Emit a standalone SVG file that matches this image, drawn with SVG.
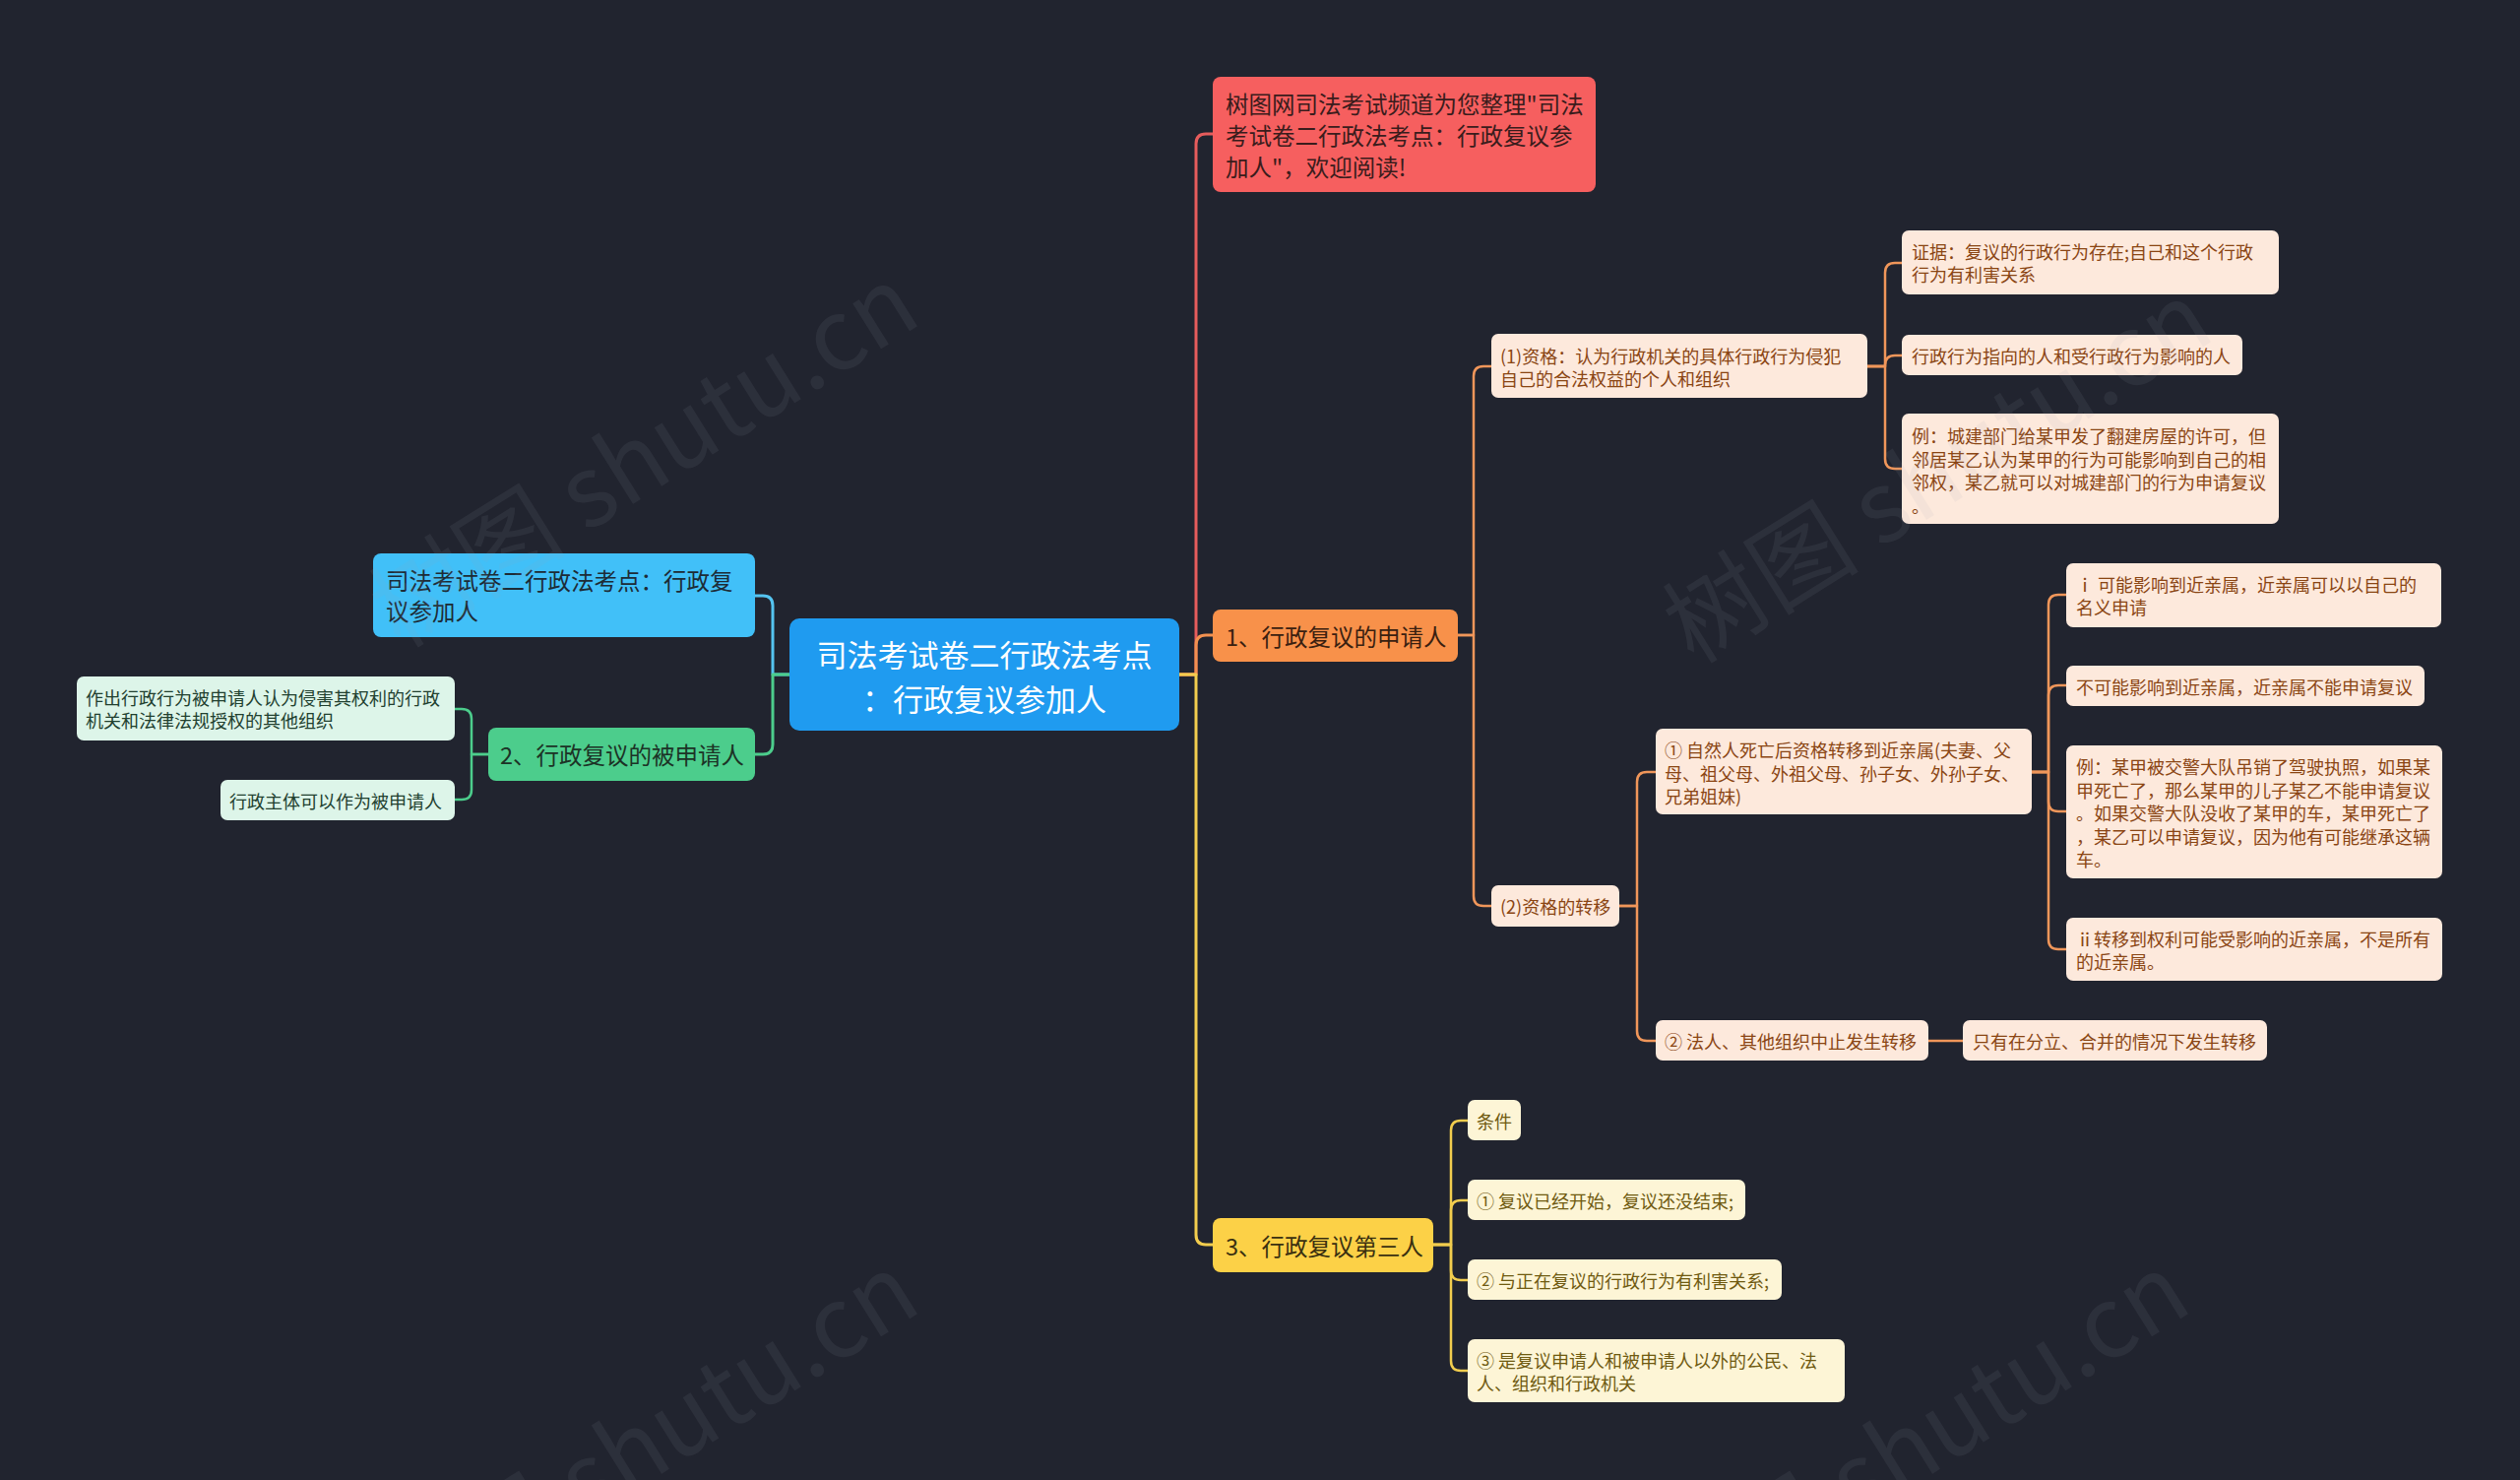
<svg xmlns="http://www.w3.org/2000/svg" width="2560" height="1503" viewBox="0 0 2560 1503">
<style>
.t{font-family:"Noto Sans CJK SC","Noto Sans",sans-serif;dominant-baseline:central}
.lk{fill:none;stroke-linecap:round;stroke-linejoin:round}
.main{stroke-width:3}
.sub{stroke-width:2.5}
.ol{fill:#fde9dc}
.ot{fill:#8a4513;font-size:18px}
.yl{fill:#fdf5d6}
.yt{fill:#6f5a10;font-size:18px}
.gl{fill:#ddf5e9}
.gt{fill:#21402f;font-size:18px}
.l1{font-size:23.5px}
.wm{font-family:"Noto Sans CJK SC","Noto Sans",sans-serif;font-size:100px;fill:#a0a6b4;opacity:0.09;text-anchor:end}
</style>
<rect x="0" y="0" width="2560" height="1503" fill="#21242f"/>

<g id="connectors">
  <path class="lk main" stroke="#e65c5c" d="M1197,685 H1215 V146 Q1215,136 1225,136 H1233"/>
  <path class="lk main" stroke="#f39150" d="M1197,685 H1215 V655 Q1215,645 1225,645 H1233"/>
  <path class="lk main" stroke="#f2cd4e" d="M1197,685 H1215 V1254 Q1215,1264 1225,1264 H1233"/>
  <path class="lk main" stroke="#55c4f0" d="M802,685 H785 V615 Q785,605 775,605 H767"/>
  <path class="lk main" stroke="#4ccd8c" d="M802,685 H785 V756 Q785,766 775,766 H767"/>
  <path class="lk sub" stroke="#4ccd8c" d="M496,766 H479 V730 Q479,720 469,720 H462"/>
  <path class="lk sub" stroke="#4ccd8c" d="M496,766 H479 V802 Q479,812 469,812 H462"/>
  <path class="lk sub" stroke="#f0965a" d="M1481,645 H1497 V382 Q1497,372 1507,372 H1515"/>
  <path class="lk sub" stroke="#f0965a" d="M1481,645 H1497 V910 Q1497,920 1507,920 H1515"/>
  <path class="lk sub" stroke="#f0965a" d="M1897,372 H1915 V277 Q1915,267 1925,267 H1932"/>
  <path class="lk sub" stroke="#f0965a" d="M1897,372 H1915 V371 Q1915,361 1925,361 H1932"/>
  <path class="lk sub" stroke="#f0965a" d="M1897,372 H1915 V466 Q1915,476 1925,476 H1932"/>
  <path class="lk sub" stroke="#f0965a" d="M1645,920 H1663 V794 Q1663,784 1673,784 H1682"/>
  <path class="lk sub" stroke="#f0965a" d="M1645,920 H1663 V1047 Q1663,1057 1673,1057 H1682"/>
  <path class="lk sub" stroke="#f0965a" d="M2064,784 H2081 V614 Q2081,604 2091,604 H2099"/>
  <path class="lk sub" stroke="#f0965a" d="M2064,784 H2081 V706 Q2081,696 2091,696 H2099"/>
  <path class="lk sub" stroke="#f0965a" d="M2064,784 H2081 V814 Q2081,824 2091,824 H2099"/>
  <path class="lk sub" stroke="#f0965a" d="M2064,784 H2081 V954 Q2081,964 2091,964 H2099"/>
  <path class="lk sub" stroke="#f0965a" d="M1959,1057 H1994"/>
  <path class="lk sub" stroke="#f2cd4e" d="M1456,1264 H1474 V1148 Q1474,1138 1484,1138 H1491"/>
  <path class="lk sub" stroke="#f2cd4e" d="M1456,1264 H1474 V1229 Q1474,1219 1484,1219 H1491"/>
  <path class="lk sub" stroke="#f2cd4e" d="M1456,1264 H1474 V1290 Q1474,1300 1484,1300 H1491"/>
  <path class="lk sub" stroke="#f2cd4e" d="M1456,1264 H1474 V1382 Q1474,1392 1484,1392 H1491"/>
</g>

<g id="root">
  <rect x="802" y="628" width="396" height="114" rx="10" fill="#1f9bf0"/>
  <text class="t" font-size="31" fill="#ffffff" text-anchor="middle"><tspan x="1000" y="663">司法考试卷二行政法考点</tspan><tspan x="1000" y="708">：行政复议参加人</tspan></text>
</g>

<g id="n-intro">
  <rect x="1232" y="78" width="389" height="117" rx="8" fill="#f65f5f"/>
  <text class="t l1" fill="#3a1c1c"><tspan x="1245" y="105">树图网司法考试频道为您整理"司法</tspan><tspan x="1245" y="137">考试卷二行政法考点：行政复议参</tspan><tspan x="1245" y="169">加人"，欢迎阅读!</tspan></text>
</g>

<g id="n-applicant">
  <rect x="1232" y="619" width="249" height="53" rx="8" fill="#f8914a"/>
  <text class="t l1" fill="#3a2010" x="1245" y="645.5">1、行政复议的申请人</text>
</g>

<g id="n-third">
  <rect x="1232" y="1237" width="224" height="55" rx="8" fill="#fcd147"/>
  <text class="t l1" fill="#3a3010" x="1245" y="1264.5">3、行政复议第三人</text>
</g>

<g id="n-title-left">
  <rect x="379" y="562" width="388" height="85" rx="8" fill="#41c0f8"/>
  <text class="t l1" fill="#1d2b36"><tspan x="392" y="589">司法考试卷二行政法考点：行政复</tspan><tspan x="392" y="620">议参加人</tspan></text>
</g>

<g id="n-respondent">
  <rect x="496" y="739" width="271" height="54" rx="8" fill="#4ccd8c"/>
  <text class="t l1" fill="#1c3326" x="508" y="766">2、行政复议的被申请人</text>
</g>

<g id="n-resp-1">
  <rect class="gl" x="78" y="687" width="384" height="65" rx="7"/>
  <text class="t gt"><tspan x="87" y="708">作出行政行为被申请人认为侵害其权利的行政</tspan><tspan x="87" y="731">机关和法律法规授权的其他组织</tspan></text>
</g>

<g id="n-resp-2">
  <rect class="gl" x="224" y="792" width="238" height="41" rx="7"/>
  <text class="t gt" x="233" y="812.5">行政主体可以作为被申请人</text>
</g>

<g id="n-qual">
  <rect class="ol" x="1515" y="339" width="382" height="65" rx="7"/>
  <text class="t ot"><tspan x="1524" y="361">(1)资格：认为行政机关的具体行政行为侵犯</tspan><tspan x="1524" y="384">自己的合法权益的个人和组织</tspan></text>
</g>

<g id="n-evidence">
  <rect class="ol" x="1932" y="234" width="383" height="65" rx="7"/>
  <text class="t ot"><tspan x="1942" y="255">证据：复议的行政行为存在;自己和这个行政</tspan><tspan x="1942" y="278">行为有利害关系</tspan></text>
</g>

<g id="n-target">
  <rect class="ol" x="1932" y="340" width="346" height="41" rx="7"/>
  <text class="t ot" x="1942" y="360.5">行政行为指向的人和受行政行为影响的人</text>
</g>

<g id="n-example1">
  <rect class="ol" x="1932" y="420" width="383" height="112" rx="7"/>
  <text class="t ot"><tspan x="1942" y="442">例：城建部门给某甲发了翻建房屋的许可，但</tspan><tspan x="1942" y="465.5">邻居某乙认为某甲的行为可能影响到自己的相</tspan><tspan x="1942" y="489">邻权，某乙就可以对城建部门的行为申请复议</tspan><tspan x="1942" y="512.5">。</tspan></text>
</g>

<g id="n-transfer">
  <rect class="ol" x="1515" y="899" width="130" height="42" rx="7"/>
  <text class="t ot" x="1524" y="920">(2)资格的转移</text>
</g>

<g id="n-natural">
  <rect class="ol" x="1682" y="740" width="382" height="87" rx="7"/>
  <text class="t ot"><tspan x="1691" y="761">① 自然人死亡后资格转移到近亲属(夫妻、父</tspan><tspan x="1691" y="784.5">母、祖父母、外祖父母、孙子女、外孙子女、</tspan><tspan x="1691" y="808">兄弟姐妹)</tspan></text>
</g>

<g id="n-i">
  <rect class="ol" x="2099" y="572" width="381" height="65" rx="7"/>
  <text class="t ot"><tspan x="2109" y="593">ⅰ 可能影响到近亲属，近亲属可以以自己的</tspan><tspan x="2109" y="616">名义申请</tspan></text>
</g>

<g id="n-not">
  <rect class="ol" x="2099" y="676" width="364" height="41" rx="7"/>
  <text class="t ot" x="2109" y="696.5">不可能影响到近亲属，近亲属不能申请复议</text>
</g>

<g id="n-example2">
  <rect class="ol" x="2099" y="757" width="382" height="135" rx="7"/>
  <text class="t ot"><tspan x="2109" y="778">例：某甲被交警大队吊销了驾驶执照，如果某</tspan><tspan x="2109" y="801.5">甲死亡了，那么某甲的儿子某乙不能申请复议</tspan><tspan x="2109" y="825">。如果交警大队没收了某甲的车，某甲死亡了</tspan><tspan x="2109" y="848.5">，某乙可以申请复议，因为他有可能继承这辆</tspan><tspan x="2109" y="872">车。</tspan></text>
</g>

<g id="n-ii">
  <rect class="ol" x="2099" y="932" width="382" height="64" rx="7"/>
  <text class="t ot"><tspan x="2109" y="953">ⅱ转移到权利可能受影响的近亲属，不是所有</tspan><tspan x="2109" y="976">的近亲属。</tspan></text>
</g>

<g id="n-legal">
  <rect class="ol" x="1682" y="1036" width="277" height="41" rx="7"/>
  <text class="t ot" x="1691" y="1056.5">② 法人、其他组织中止发生转移</text>
</g>

<g id="n-merge">
  <rect class="ol" x="1994" y="1036" width="309" height="41" rx="7"/>
  <text class="t ot" x="2004" y="1056.5">只有在分立、合并的情况下发生转移</text>
</g>

<g id="n-cond">
  <rect class="yl" x="1491" y="1117" width="54" height="41" rx="7"/>
  <text class="t yt" x="1500" y="1137.5">条件</text>
</g>

<g id="n-c1">
  <rect class="yl" x="1491" y="1198" width="282" height="41" rx="7"/>
  <text class="t yt" x="1500" y="1218.5">① 复议已经开始，复议还没结束;</text>
</g>

<g id="n-c2">
  <rect class="yl" x="1491" y="1279" width="319" height="41" rx="7"/>
  <text class="t yt" x="1500" y="1299.5">② 与正在复议的行政行为有利害关系;</text>
</g>

<g id="n-c3">
  <rect class="yl" x="1491" y="1360" width="383" height="64" rx="7"/>
  <text class="t yt"><tspan x="1500" y="1380.5">③ 是复议申请人和被申请人以外的公民、法</tspan><tspan x="1500" y="1403.5">人、组织和行政机关</tspan></text>
</g>

<g id="watermarks">
  <text class="wm" transform="rotate(-32 939 327)" x="939" y="327">树图 shutu.cn</text>
  <text class="wm" transform="rotate(-32 2253 343)" x="2253" y="343">树图 shutu.cn</text>
  <text class="wm" transform="rotate(-32 939 1330)" x="939" y="1330">树图 shutu.cn</text>
  <text class="wm" transform="rotate(-32 2230 1330)" x="2230" y="1330">树图 shutu.cn</text>
</g>
</svg>
